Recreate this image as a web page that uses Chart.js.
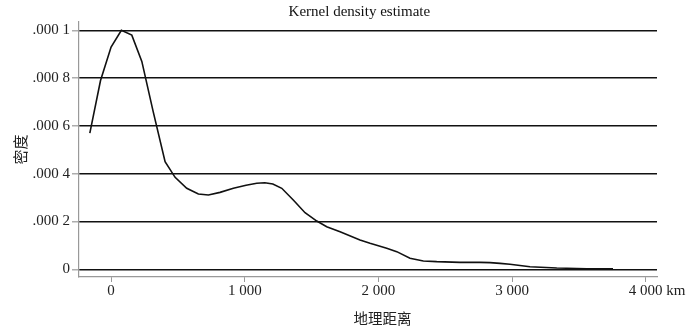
<!DOCTYPE html>
<html>
<head>
<meta charset="utf-8">
<script src="https://cdn.jsdelivr.net/npm/chart.js@4"></script>
<style>
  html, body { margin: 0; padding: 0; background: #fff; }
  #wrap { width: 700px; height: 332px; }
</style>
</head>
<body>
<div id="wrap"><canvas id="chart"></canvas></div>
<script>
// distance (km) and kernel density
const distance = [-159, -79, 0, 77, 155, 230, 315, 404, 479, 566, 653, 728, 815, 915, 1010,
    1090, 1150, 1210, 1277, 1363, 1451, 1539, 1613, 1713, 1862, 1937, 2062, 2137, 2236,
    2336, 2436, 2610, 2760, 2835, 2910, 2984, 3134, 3334, 3558, 3755];
const density = [0.00057, 0.00079, 0.00093, 0.001, 0.00098, 0.00087, 0.00066, 0.00045,
    0.000385, 0.000339, 0.000315, 0.000311, 0.000322, 0.000339, 0.000352, 0.00036,
    0.000362, 0.000357, 0.000339, 0.00029, 0.000237, 0.000202, 0.000178, 0.000157,
    0.000123, 0.000109, 0.000088, 0.000074, 0.000046, 0.000035, 0.000032, 0.000029,
    0.000029, 0.000028, 0.000025, 0.000021, 0.000011, 0.0000054, 0.0000025, 0.000002];

const xTicks = [0, 1000, 2000, 3000, 4000];
const xTickLabels = ['0', '1 000', '2 000', '3 000', '4 000 km'];
const yTicks = [0, 0.0002, 0.0004, 0.0006, 0.0008, 0.001];
const yTickLabels = ['0', '.000 2', '.000 4', '.000 6', '.000 8', '.000 1'];

const serif = "'Liberation Serif', 'DejaVu Serif', serif";
const cjk = "'Noto Sans CJK SC', sans-serif";

const ctx = document.getElementById('chart');

let data = {
    datasets: [{
        label: 'density',
        data: distance.map((d, i) => ({x: d, y: density[i]})),
        borderColor: '#111',
        borderWidth: 1.6,
        pointRadius: 0,
        tension: 0,
        fill: false
    }]
};

let options = {
    responsive: true,
    maintainAspectRatio: false,
    animation: false,
    layout: {padding: 0},
    scales: {
        x: {
            type: 'linear',
            position: 'bottom',
            min: -240,
            max: 4084,
            afterBuildTicks: s => { s.ticks = xTicks.map(v => ({value: v})); },
            afterFit: s => { s.height = 55; },
            ticks: {
                autoSkip: false,
                maxRotation: 0,
                padding: 0,
                color: '#222',
                font: {family: serif, size: 15},
                callback: (v, i) => {
                    const label = xTickLabels[i];
                    return label.endsWith(' km') ? '\u2002\u2002\u2002' + label : label;
                }
            },
            grid: {
                drawOnChartArea: false,
                drawTicks: true,
                tickLength: 5,
                tickColor: '#999'
            },
            border: {color: '#999', width: 1.2},
            title: {
                display: true,
                text: '\u3000\u3000地理距离',
                color: '#222',
                font: {family: cjk, size: 14.5},
                padding: {top: 0, bottom: 5}
            }
        },
        y: {
            type: 'linear',
            min: -0.0000322,
            max: 0.001035,
            afterBuildTicks: s => { s.ticks = yTicks.map(v => ({value: v})); },
            afterFit: s => { s.width = 79; },
            ticks: {
                padding: 2,
                color: '#222',
                font: {family: serif, size: 15},
                callback: (v, i) => yTickLabels[i]
            },
            grid: {
                color: '#111',
                lineWidth: 1.6,
                tickLength: 7,
                tickColor: '#999',
                tickWidth: 1.2
            },
            border: {color: '#999', width: 1.2},
            title: {
                display: true,
                text: '密度',
                color: '#222',
                font: {family: cjk, size: 15},
                padding: {top: 11, bottom: 0}
            }
        },
        right: {
            type: 'linear',
            position: 'right',
            display: true,
            afterFit: s => { s.width = 43; },
            ticks: {display: false},
            grid: {display: false},
            border: {display: false}
        }
    },
    plugins: {
        legend: {display: false},
        tooltip: {enabled: false},
        title: {
            display: true,
            text: '\u2003\u2005Kernel density estimate',
            color: '#111',
            font: {family: serif, size: 15, weight: 'normal'},
            padding: {top: 3, bottom: 1}
        }
    }
};

let chart = new Chart(ctx, {
    type: 'line',
    data: data,
    options: options
});
</script>
</body>
</html>
